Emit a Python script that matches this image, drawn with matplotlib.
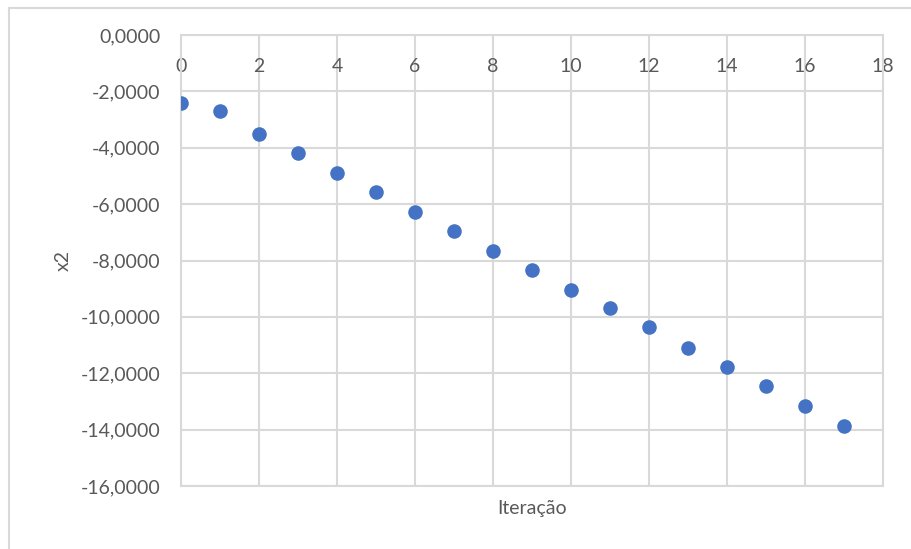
import matplotlib
matplotlib.use("Agg")
import matplotlib.pyplot as plt
from matplotlib.ticker import FuncFormatter, MultipleLocator
from matplotlib.lines import Line2D

# ── Dados ─────────────────────────────────────────────────────────────────────
iteracao = [0, 1, 2, 3, 4, 5, 6, 7, 8, 9, 10, 11, 12, 13, 14, 15, 16, 17]
x2 = [-2.41, -2.69, -3.50, -4.18, -4.88, -5.56, -6.27, -6.94, -7.68,
      -8.35, -9.03, -9.70, -10.37, -11.12, -11.79, -12.46, -13.17, -13.88]

TEXT = "#595959"
GRID = "#D9D9D9"
BLUE = "#4472C4"
FS = 14

plt.rcParams["font.family"] = ["Lato", "DejaVu Sans"]

fig = plt.figure(figsize=(9.11, 5.49), dpi=100)
ax = fig.add_axes([181 / 911, 1 - 486 / 549, (883 - 181) / 911, (486 - 35) / 549])

ax.scatter(iteracao, x2, s=110, color=BLUE, zorder=3, linewidths=0)

ax.set_xlim(0, 18)
ax.set_ylim(-16, 0)
ax.xaxis.set_major_locator(MultipleLocator(2))
ax.yaxis.set_major_locator(MultipleLocator(2))
ax.grid(True, color=GRID, linewidth=1.5)
for s in ax.spines.values():
    s.set_color(GRID)
    s.set_linewidth(1.5)

# rótulos do eixo x ficam logo abaixo da linha y = 0
ax.xaxis.set_ticks_position("top")
ax.tick_params(axis="x", length=0, labelsize=FS, labelcolor=TEXT, pad=-29)
ax.tick_params(axis="y", length=0, labelsize=FS, labelcolor=TEXT, pad=15)
ax.yaxis.set_major_formatter(FuncFormatter(lambda v, p: f"{v:.4f}".replace(".", ",")))

ax.set_ylabel("x2", fontsize=FS, color=TEXT, labelpad=6)
ax.text(0.5, -0.03, "Iteração", transform=ax.transAxes, ha="center", va="top",
        fontsize=FS, color=TEXT)

# moldura do gráfico
fig.add_artist(Line2D([9 / 911, 9 / 911], [0, 1 - 8 / 549], color=GRID, lw=1.5))
fig.add_artist(Line2D([9 / 911, 1], [1 - 8 / 549, 1 - 8 / 549], color=GRID, lw=1.5))

fig.savefig("out.png", dpi=100)
